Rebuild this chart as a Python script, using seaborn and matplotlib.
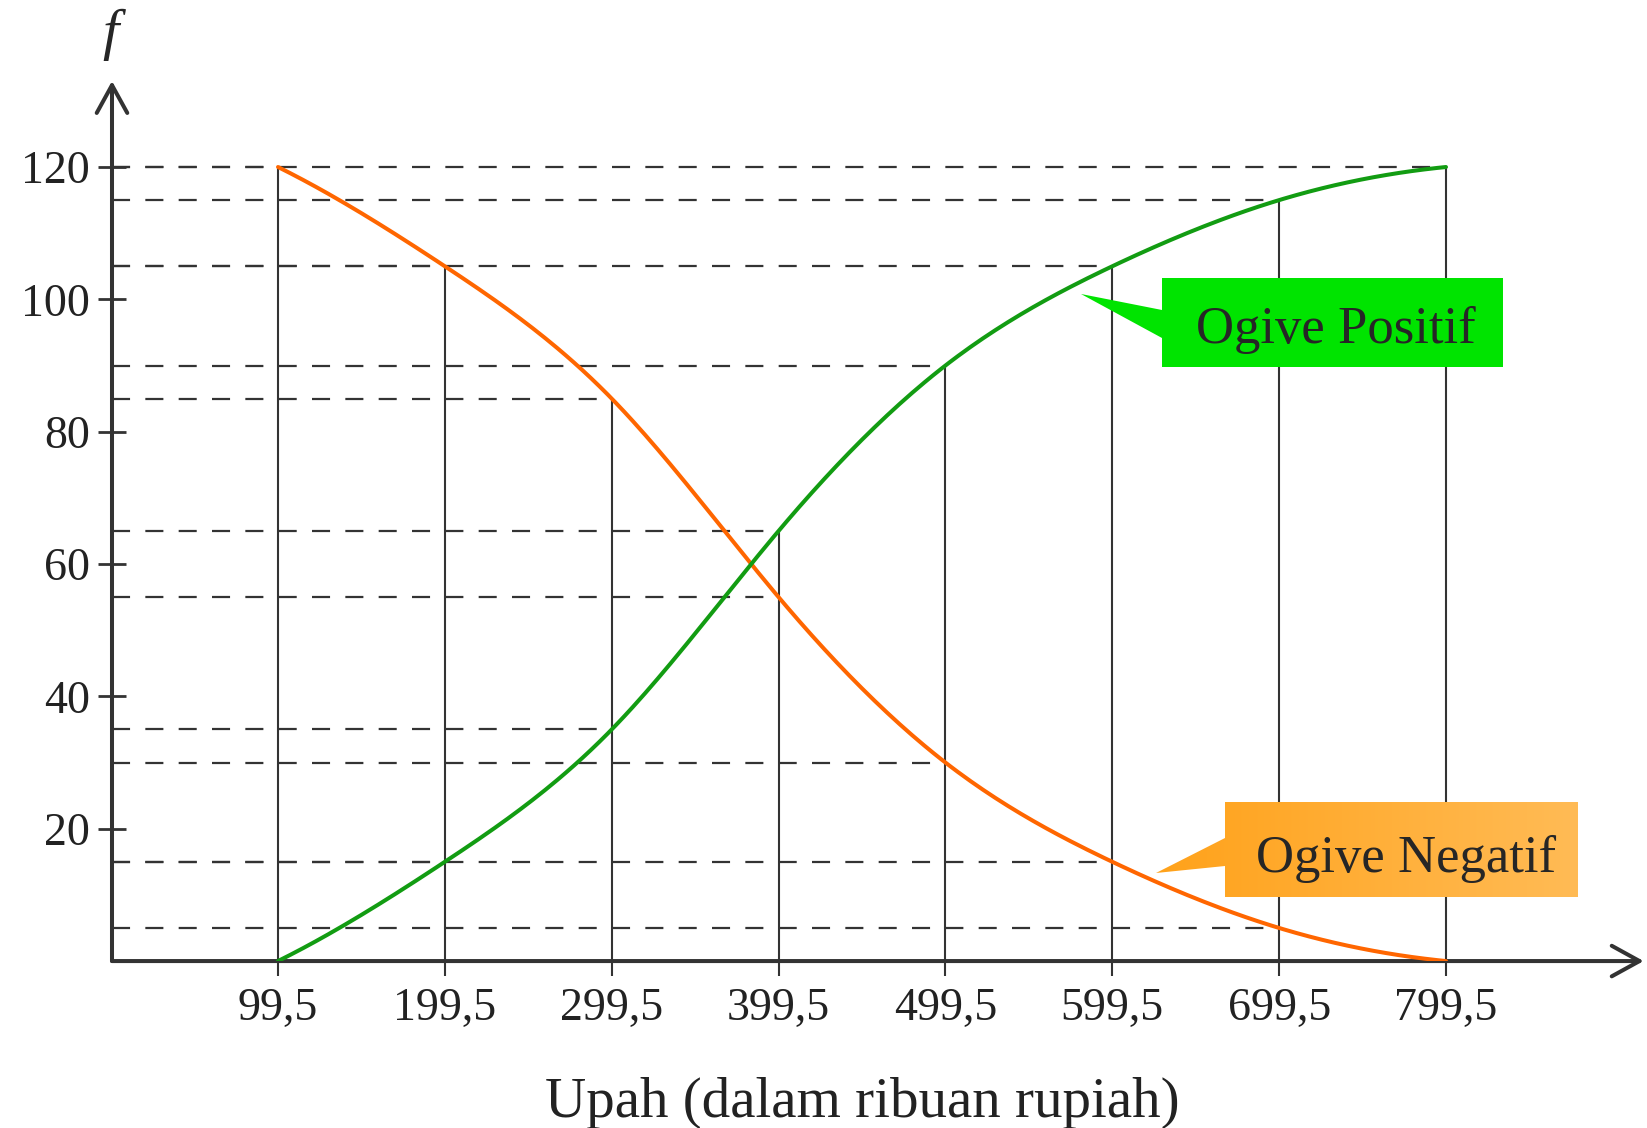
import numpy as np
import matplotlib
matplotlib.use('Agg')
import matplotlib.pyplot as plt
from matplotlib.patches import Polygon
from matplotlib.colors import LinearSegmentedColormap
import seaborn as sns

sns.set_style('white')
plt.rcParams['font.family'] = ['Liberation Serif', 'DejaVu Serif']
plt.rcParams['lines.scale_dashes'] = False

# -------------------------
# data
# -------------------------
upah = [99.5, 199.5, 299.5, 399.5, 499.5, 599.5, 699.5, 799.5]
upah_labels = ['99,5', '199,5', '299,5', '399,5', '499,5', '599,5', '699,5', '799,5']
ogive_positif = [0, 15, 35, 65, 90, 105, 115, 120]
ogive_negatif = [120, 105, 85, 55, 30, 15, 5, 0]
y_ticks = [20, 40, 60, 80, 100, 120]

W, H = 1647, 1128
DARK = '#333333'


def smooth_line(x, y, n=40):
    # clamped cubic spline through the points, only to draw the ogive smoothly
    x = np.asarray(x, float)
    y = np.asarray(y, float)
    h = np.diff(x)
    d = np.diff(y) / h
    N = len(x)
    s0 = 2 * d[0] - (y[2] - y[0]) / (x[2] - x[0])
    sn = 2 * d[-1] - (y[-1] - y[-3]) / (x[-1] - x[-3])
    A = np.zeros((N, N))
    b = np.zeros(N)
    A[0, 0], A[0, 1], b[0] = 2 * h[0], h[0], 6 * (d[0] - s0)
    A[-1, -2], A[-1, -1], b[-1] = h[-1], 2 * h[-1], 6 * (sn - d[-1])
    for i in range(1, N - 1):
        A[i, i - 1] = h[i - 1]
        A[i, i] = 2 * (h[i - 1] + h[i])
        A[i, i + 1] = h[i]
        b[i] = 6 * (d[i] - d[i - 1])
    M = np.linalg.solve(A, b)
    xs, ys = [], []
    for k in range(N - 1):
        xx = np.linspace(x[k], x[k + 1], n, endpoint=(k == N - 2))
        a = x[k + 1] - xx
        c = xx - x[k]
        yy = (M[k] * a**3 + M[k + 1] * c**3) / (6 * h[k]) \
            + (y[k] / h[k] - M[k] * h[k] / 6) * a + (y[k + 1] / h[k] - M[k + 1] * h[k] / 6) * c
        xs.append(xx)
        ys.append(yy)
    return np.concatenate(xs), np.concatenate(ys)


fig = plt.figure(figsize=(W / 100, H / 100), dpi=100)
ax = fig.add_axes([0.068, 0.148, 0.93, 0.7802])
ax.set_xlim(0, 918)
ax.set_ylim(0, 133)

# guide lines
ax.vlines(upah, 0, np.maximum(ogive_positif, ogive_negatif), color=DARK, lw=1.5, zorder=2)
for serie in (ogive_positif, ogive_negatif):
    for xv, yv in zip(upah, serie):
        if yv > 0:
            ax.plot([0, xv], [yv, yv], color=DARK, lw=1.6, ls=(0, (13, 11)), zorder=1)

# ogive curves
xp, yp = smooth_line(upah, ogive_positif)
xn, yn = smooth_line(upah, ogive_negatif)
sns.lineplot(x=xn, y=yn, color='#FF6600', lw=2.9, ax=ax, zorder=4)
sns.lineplot(x=xp, y=yp, color='#129C12', lw=2.9, ax=ax, zorder=5)

# axes with arrows
for s in ax.spines.values():
    s.set_visible(False)
arrow = dict(arrowstyle='->,head_length=2.0,head_width=1.1', lw=2.9, color=DARK,
             shrinkA=0, shrinkB=0, mutation_scale=10)
ax.annotate('', xy=(0, 1), xytext=(0, 0), xycoords='axes fraction',
            textcoords='axes fraction', arrowprops=arrow, annotation_clip=False)
ax.annotate('', xy=(1, 0), xytext=(0, 0), xycoords='axes fraction',
            textcoords='axes fraction', arrowprops=arrow, annotation_clip=False)

ax.set_xticks(upah, upah_labels)
ax.set_yticks(y_ticks)
ax.tick_params(axis='x', bottom=True, direction='out', length=11, width=1.5,
               color=DARK, pad=8, labelsize=33, labelcolor='#222222')
ax.tick_params(axis='y', left=True, direction='inout', length=20, width=2,
               color=DARK, pad=6, labelsize=33, labelcolor='#222222')

ax.set_xlabel('Upah (dalam ribuan rupiah)', fontsize=41, color='#222222')
ax.xaxis.set_label_coords(0.490, -0.177)
ax.xaxis.label.set_verticalalignment('baseline')
ax.set_ylabel('')
ax.text(-0.001, 1.036, 'f', style='italic', fontsize=42, ha='center', va='baseline',
        transform=ax.transAxes)

# callout labels (overlay axes in pixel units)
ov = fig.add_axes([0, 0, 1, 1], zorder=10)
ov.axis('off')
ov.patch.set_alpha(0)

green_box = [(1081, 294), (1162, 310), (1162, 278), (1503, 278), (1503, 367), (1162, 367), (1162, 338)]
orange_box = [(1156, 873), (1225, 838), (1225, 802), (1578, 802), (1578, 897), (1225, 897), (1225, 866)]
ov.add_patch(Polygon(green_box, closed=True, fc='#00E400', ec='none'))

orange_poly = Polygon(orange_box, closed=True, fc='none', ec='none')
ov.add_patch(orange_poly)
orange_grad = LinearSegmentedColormap.from_list('og', ['#FFA21A', '#FFBB55'])
grad = ov.imshow(np.linspace(0, 1, 256).reshape(1, -1), cmap=orange_grad, aspect='auto',
                 extent=(1156, 1578, 897, 802), interpolation='bilinear')
grad.set_clip_path(orange_poly)
ov.set_xlim(0, W)
ov.set_ylim(H, 0)

ov.text(1336, 343, 'Ogive Positif', ha='center', va='baseline', fontsize=38)
ov.text(1406, 872, 'Ogive Negatif', ha='center', va='baseline', fontsize=38)

fig.savefig('out.png', dpi=100)
